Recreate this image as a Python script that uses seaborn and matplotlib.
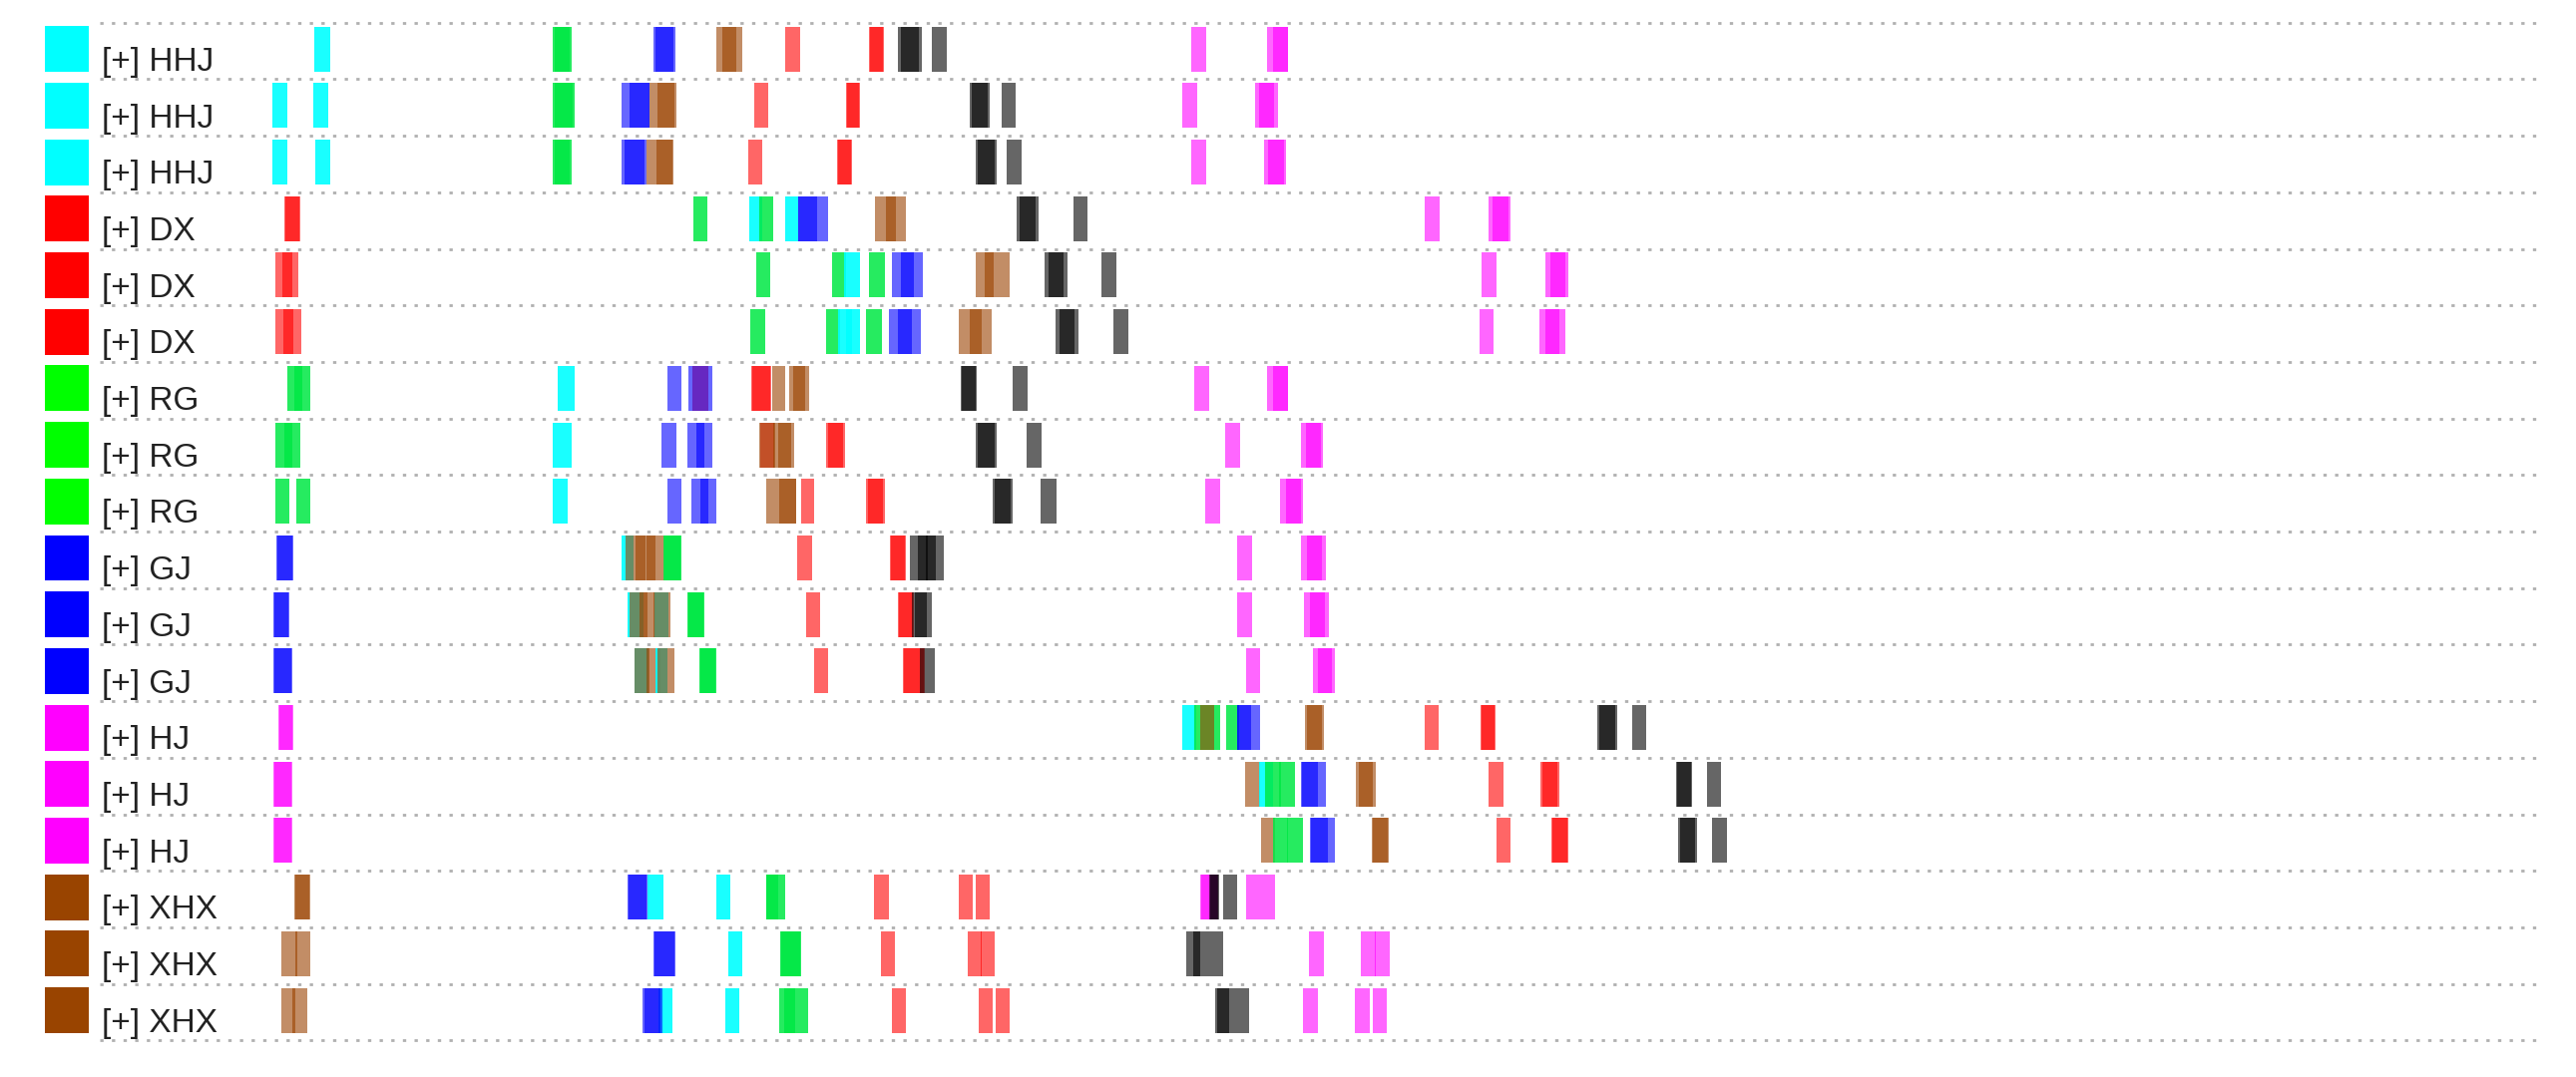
import matplotlib
matplotlib.use("Agg")
import matplotlib.pyplot as plt
import seaborn as sns
import pandas as pd

# ---------------- data ----------------
row_labels = ["HHJ"] * 3 + ["DX"] * 3 + ["RG"] * 3 + ["GJ"] * 3 + ["HJ"] * 3 + ["XHX"] * 3
row_keys = ["H"] * 3 + ["D"] * 3 + ["R"] * 3 + ["G"] * 3 + ["J"] * 3 + ["X"] * 3

# events per row: (type, start, duration)
hhj_1 = [("H", 315, 16), ("R", 554, 19), ("R", 556, 15), ("G", 655, 22), ("G", 657, 18),
         ("X", 718, 26), ("X", 724, 14), ("D", 787, 15), ("D", 871, 15), ("D", 872, 13),
         ("K", 900, 24), ("K", 903, 18), ("K", 934, 15), ("J", 1194, 15), ("J", 1270, 21), ("J", 1276, 15)]
hhj_2 = [("H", 273, 15), ("H", 314, 15), ("R", 554, 22), ("R", 556, 18), ("G", 623, 28), ("G", 631, 20),
         ("X", 651, 27), ("X", 659, 17), ("D", 756, 14), ("D", 848, 14), ("D", 849, 12),
         ("K", 972, 20), ("K", 974, 16), ("K", 1004, 14), ("J", 1185, 15), ("J", 1258, 23), ("J", 1262, 15)]
hhj_3 = [("H", 273, 15), ("H", 316, 15), ("R", 554, 19), ("R", 556, 15), ("G", 623, 25), ("G", 626, 20),
         ("X", 648, 27), ("X", 658, 16), ("D", 750, 14), ("D", 839, 15), ("D", 840, 13),
         ("K", 978, 21), ("K", 980, 17), ("K", 1009, 15), ("J", 1194, 15), ("J", 1267, 22), ("J", 1271, 16)]
dx_1 = [("D", 285, 16), ("D", 286, 14), ("R", 695, 14), ("H", 751, 13), ("R", 761, 14), ("H", 787, 13),
        ("G", 800, 30), ("G", 800, 19), ("X", 877, 31), ("X", 888, 10),
        ("K", 1019, 22), ("K", 1022, 16), ("K", 1076, 14), ("J", 1428, 15), ("J", 1492, 22), ("J", 1496, 16)]
dx_2 = [("D", 276, 23), ("D", 283, 10), ("R", 758, 14), ("R", 834, 14), ("H", 846, 16), ("R", 871, 16),
        ("G", 894, 31), ("G", 903, 13), ("X", 978, 34), ("X", 987, 9),
        ("K", 1047, 23), ("K", 1051, 15), ("K", 1104, 15), ("J", 1485, 15), ("J", 1549, 23), ("J", 1554, 15)]
dx_3 = [("D", 276, 26), ("D", 284, 10), ("R", 752, 15), ("R", 828, 14), ("H", 840, 14), ("H", 848, 14),
        ("R", 868, 16), ("G", 891, 32), ("G", 900, 14), ("X", 961, 33), ("X", 972, 12),
        ("K", 1058, 23), ("K", 1062, 15), ("K", 1116, 15), ("J", 1483, 14), ("J", 1543, 26), ("J", 1549, 14)]
rg_1 = [("R", 288, 23), ("R", 295, 8), ("H", 559, 17), ("G", 669, 14), ("D", 694, 16), ("G", 690, 24),
        ("D", 753, 20), ("D", 754, 18), ("X", 774, 13), ("X", 791, 20), ("X", 795, 12),
        ("K", 963, 16), ("K", 964, 14), ("K", 1015, 15), ("J", 1197, 15), ("J", 1270, 21), ("J", 1276, 15)]
rg_2 = [("R", 276, 25), ("R", 285, 8), ("H", 554, 19), ("G", 663, 15), ("G", 689, 25), ("G", 698, 8),
        ("D", 762, 14), ("X", 761, 16), ("X", 775, 21), ("X", 780, 13), ("D", 828, 19), ("D", 830, 15),
        ("K", 978, 21), ("K", 980, 17), ("K", 1029, 15), ("J", 1228, 15), ("J", 1304, 22), ("J", 1309, 15)]
rg_3 = [("R", 276, 14), ("R", 297, 14), ("H", 554, 15), ("G", 669, 14), ("G", 693, 25), ("G", 702, 8),
        ("X", 768, 30), ("X", 781, 17), ("D", 803, 13), ("D", 868, 19), ("D", 870, 15),
        ("K", 995, 20), ("K", 997, 16), ("K", 1043, 16), ("J", 1208, 15), ("J", 1283, 23), ("J", 1289, 15)]
gj_1 = [("G", 277, 17), ("G", 278, 15), ("H", 623, 12), ("X", 627, 20), ("X", 637, 20), ("X", 648, 18),
        ("R", 665, 18), ("R", 666, 16), ("D", 799, 15), ("D", 892, 16), ("D", 893, 14),
        ("K", 912, 18), ("K", 920, 18), ("K", 928, 18), ("J", 1240, 15), ("J", 1304, 25), ("J", 1310, 15)]
gj_2 = [("G", 274, 16), ("G", 275, 14), ("H", 629, 16), ("X", 631, 18), ("X", 641, 16), ("H", 656, 14),
        ("X", 655, 17), ("R", 689, 17), ("R", 690, 15), ("D", 808, 14), ("D", 900, 16), ("D", 901, 14),
        ("K", 914, 20), ("K", 917, 12), ("J", 1240, 15), ("J", 1307, 25), ("J", 1313, 15)]
gj_3 = [("G", 274, 19), ("G", 275, 17), ("H", 636, 14), ("X", 636, 15), ("X", 648, 14), ("H", 657, 12),
        ("X", 659, 17), ("R", 701, 17), ("R", 702, 15), ("D", 816, 14), ("D", 905, 22), ("D", 906, 20),
        ("K", 922, 15), ("J", 1249, 14), ("J", 1316, 22), ("J", 1321, 14)]
hj_1 = [("J", 279, 15), ("J", 280, 13), ("H", 1185, 14), ("R", 1197, 26), ("X", 1203, 14), ("R", 1229, 13),
        ("G", 1240, 23), ("G", 1240, 14), ("X", 1308, 19), ("X", 1310, 15), ("D", 1428, 14),
        ("D", 1484, 15), ("D", 1485, 13), ("K", 1601, 20), ("K", 1603, 16), ("K", 1636, 14)]
hj_2 = [("J", 274, 19), ("J", 275, 17), ("X", 1248, 15), ("H", 1262, 14), ("R", 1268, 16), ("R", 1282, 16),
        ("G", 1304, 25), ("G", 1305, 16), ("X", 1359, 20), ("X", 1362, 14), ("D", 1492, 15),
        ("D", 1544, 19), ("D", 1546, 15), ("K", 1680, 16), ("K", 1681, 14), ("K", 1711, 14)]
hj_3 = [("J", 274, 19), ("J", 275, 17), ("X", 1264, 14), ("R", 1276, 15), ("R", 1290, 16),
        ("G", 1313, 25), ("G", 1314, 17), ("X", 1375, 17), ("X", 1376, 15), ("D", 1500, 14),
        ("D", 1555, 17), ("D", 1556, 15), ("K", 1682, 19), ("K", 1684, 15), ("K", 1716, 15)]
xhx_1 = [("X", 295, 16), ("X", 296, 14), ("G", 629, 20), ("G", 630, 18), ("H", 649, 16), ("H", 718, 14),
         ("R", 768, 19), ("R", 768, 12), ("D", 876, 15), ("D", 961, 14), ("D", 978, 14),
         ("J", 1203, 18), ("J", 1204, 16), ("K", 1212, 10), ("K", 1213, 8), ("K", 1226, 14),
         ("J", 1249, 14), ("J", 1263, 15)]
xhx_2 = [("X", 282, 16), ("X", 296, 15), ("G", 655, 22), ("G", 656, 20), ("H", 730, 14),
         ("R", 782, 21), ("R", 783, 19), ("D", 883, 14), ("D", 970, 14), ("D", 983, 14),
         ("K", 1189, 14), ("K", 1196, 30), ("J", 1312, 15), ("J", 1364, 15), ("J", 1378, 15)]
xhx_3 = [("X", 282, 14), ("X", 293, 15), ("H", 660, 14), ("G", 644, 20), ("G", 646, 16), ("H", 727, 14),
         ("R", 781, 16), ("R", 786, 24), ("D", 894, 14), ("D", 981, 14), ("D", 998, 14),
         ("K", 1218, 14), ("K", 1220, 32), ("J", 1306, 15), ("J", 1358, 15), ("J", 1376, 14)]

rows = [hhj_1, hhj_2, hhj_3, dx_1, dx_2, dx_3, rg_1, rg_2, rg_3,
        gj_1, gj_2, gj_3, hj_1, hj_2, hj_3, xhx_1, xhx_2, xhx_3]

# ---------------- styles ----------------
event_colors = {"H": "#00FFFF", "R": "#00E844", "G": "#0000FF", "D": "#FF0000",
                "J": "#FF00FF", "K": "#000000", "X": "#9A4200"}
event_alpha = {"H": 0.9, "R": 0.85, "G": 0.6, "D": 0.6, "J": 0.6, "K": 0.6, "X": 0.6}
legend_colors = {"H": "#00FFFF", "D": "#FF0000", "R": "#00FF00", "G": "#0000FF",
                 "J": "#FF00FF", "X": "#994400"}

records = []
for r, evs in enumerate(rows):
    for order, (k, s, w) in enumerate(evs):
        records.append({"row": r, "order": order, "type": k, "start": s, "dur": w})
df = pd.DataFrame(records)

sns.set_theme(style="white")
plt.rcParams["font.family"] = ["Liberation Sans", "DejaVu Sans"]

fig = plt.figure(figsize=(25.82, 10.8), dpi=100)
ax = fig.add_axes([0, 0, 1, 1])
n = len(rows)
pitch_px = 56.7
top_px = 22.7
ax.set_xlim(0, 2582)
ax.set_ylim(-0.5 + (1080 - top_px) / pitch_px, -0.5 - top_px / pitch_px)
ax.axis("off")

bar_off = -0.033
bar_h = 0.794

# dotted separators
for i in range(n + 1):
    ax.hlines(i - 0.5, 100, 2550, colors="#b0b0b0", linewidth=2.0,
              linestyles=(0, (1.2, 3.0)), zorder=1)

# legend squares and labels
for i, (lab, key) in enumerate(zip(row_labels, row_keys)):
    ax.barh(i + bar_off, 44, left=45, height=0.81, color=legend_colors[key],
            linewidth=0, zorder=2)
    ax.text(102, i + 0.35, f"[+] {lab}", fontsize=24, color="#222222",
            va="baseline", ha="left", zorder=3)

# event bars
for _, ev in df.sort_values(["row", "order"]).iterrows():
    ax.barh(ev["row"] + bar_off, ev["dur"], left=ev["start"], height=bar_h,
            color=event_colors[ev["type"]], alpha=event_alpha[ev["type"]],
            linewidth=0, zorder=2)

fig.savefig("out.png", dpi=100, facecolor="white")
